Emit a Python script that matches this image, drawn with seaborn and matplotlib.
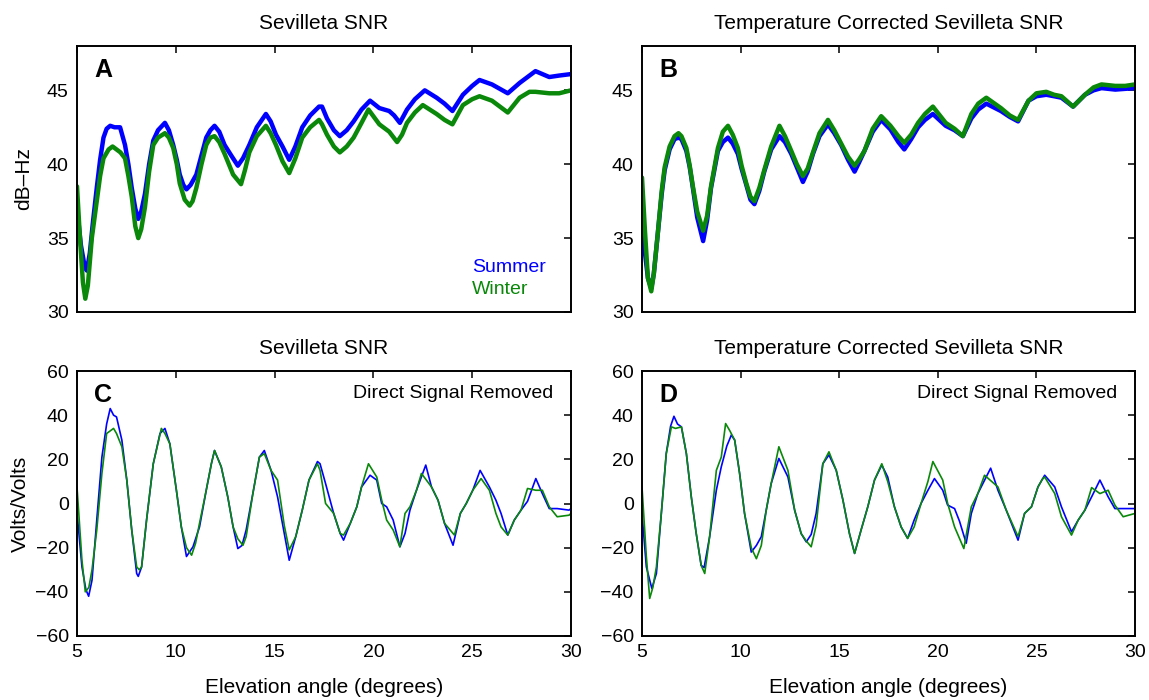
import numpy as np
import pandas as pd
import matplotlib
matplotlib.use("Agg")
import matplotlib.pyplot as plt
import seaborn as sns

# ---------------- data ----------------
# Panel A: Sevilleta SNR (dB-Hz)
a_sum_x = [5.0, 5.2, 5.4, 5.5, 5.65, 5.8, 6.0, 6.17, 6.34, 6.5, 6.68, 6.9, 7.18, 7.43, 7.6, 7.77, 7.95, 8.1,
           8.25, 8.44, 8.65, 8.86, 9.1, 9.45, 9.65, 9.87, 10.05, 10.2, 10.38, 10.54, 10.75, 11.04, 11.3,
           11.54, 11.75, 11.96, 12.2, 12.47, 12.8, 13.14, 13.4, 13.72, 14.1, 14.56, 14.8, 15.07, 15.4,
           15.74, 16.05, 16.4, 16.8, 17.25, 17.4, 17.65, 18.0, 18.3, 18.65, 19.0, 19.4, 19.83, 20.3,
           20.8, 21.05, 21.34, 21.7, 22.1, 22.6, 23.2, 23.6, 24.0, 24.53, 25.0, 25.37, 26.0, 26.4, 26.8,
           27.4, 27.8, 28.2, 28.9, 29.4, 30.0]
a_sum_y = [37.0, 34.5, 33.0, 32.8, 34.0, 36.0, 38.4, 40.3, 41.8, 42.4, 42.6, 42.5, 42.5, 41.3, 40.0, 38.4,
           37.0, 36.3, 36.8, 38.0, 40.0, 41.6, 42.3, 42.8, 42.3, 41.3, 40.3, 39.3, 38.6, 38.3, 38.6, 39.3,
           40.6, 41.8, 42.3, 42.6, 42.2, 41.3, 40.6, 39.9, 40.4, 41.3, 42.5, 43.4, 42.9, 42.0, 41.2, 40.3,
           41.2, 42.5, 43.3, 43.9, 43.9, 43.1, 42.3, 41.9, 42.3, 42.9, 43.7, 44.3, 43.8, 43.6, 43.3, 42.8,
           43.7, 44.4, 45.0, 44.5, 44.1, 43.6, 44.7, 45.3, 45.7, 45.4, 45.1, 44.8, 45.5, 45.9, 46.3, 45.9,
           46.0, 46.1]
a_win_x = [5.0, 5.15, 5.3, 5.42, 5.55, 5.75, 6.0, 6.17, 6.34, 6.6, 6.8, 7.0, 7.2, 7.43, 7.6, 7.77, 7.95,
           8.1, 8.25, 8.44, 8.65, 8.86, 9.1, 9.45, 9.65, 9.87, 10.05, 10.2, 10.45, 10.7, 10.85, 11.04,
           11.3, 11.54, 11.75, 11.96, 12.2, 12.47, 12.9, 13.3, 13.5, 13.72, 14.1, 14.56, 14.8, 15.07,
           15.4, 15.74, 16.05, 16.4, 16.8, 17.25, 17.4, 17.65, 18.0, 18.3, 18.65, 19.0, 19.4, 19.75,
           20.3, 20.8, 21.2, 21.45, 21.7, 22.1, 22.5, 23.2, 23.6, 24.0, 24.53, 25.0, 25.37, 26.0, 26.4,
           26.8, 27.4, 27.9, 28.2, 28.9, 29.4, 30.0]
a_win_y = [38.5, 35.0, 32.0, 30.9, 31.8, 35.0, 37.5, 39.2, 40.4, 41.0, 41.2, 41.0, 40.8, 40.4, 39.2, 37.8,
           35.8, 35.0, 35.6, 37.1, 39.5, 41.3, 41.8, 42.1, 41.8, 41.1, 40.0, 38.7, 37.6, 37.2, 37.5, 38.4,
           40.0, 41.3, 41.8, 41.9, 41.5, 40.7, 39.3, 38.65, 39.6, 40.8, 41.9, 42.6, 42.1, 41.3, 40.2, 39.4,
           40.4, 41.8, 42.5, 43.0, 42.7, 42.0, 41.2, 40.8, 41.2, 41.8, 42.8, 43.7, 42.7, 42.2, 41.5, 42.0,
           42.8, 43.5, 44.0, 43.4, 43.0, 42.7, 44.0, 44.4, 44.6, 44.3, 43.9, 43.5, 44.5, 44.9, 44.9, 44.8,
           44.8, 45.0]

# Panel B: Temperature corrected Sevilleta SNR (dB-Hz)
b_x = [5.0, 5.15, 5.3, 5.47, 5.6, 5.8, 6.0, 6.15, 6.4, 6.65, 6.85, 7.0, 7.25, 7.42, 7.58, 7.8, 8.1, 8.3,
       8.5, 8.85, 9.1, 9.36, 9.6, 9.86, 10.05, 10.29, 10.5, 10.7, 10.95, 11.2, 11.55, 11.97, 12.25, 12.57,
       12.85, 13.16, 13.4, 13.67, 14.0, 14.43, 14.75, 15.1, 15.45, 15.78, 16.0, 16.28, 16.7, 17.13, 17.6,
       18.0, 18.3, 18.65, 19.0, 19.35, 19.75, 20.4, 20.85, 21.27, 21.7, 22.05, 22.46, 23.2, 23.65, 24.07,
       24.6, 25.0, 25.5, 25.9, 26.27, 26.86, 27.46, 27.9, 28.3, 29.0, 29.5, 30.0]
b_sum_y = [37.5, 34.0, 32.3, 31.6, 32.6, 35.3, 38.0, 39.6, 41.0, 41.7, 41.8, 41.7, 40.9, 39.8, 38.4, 36.4,
           34.8, 36.2, 38.4, 40.9, 41.5, 41.8, 41.4, 40.7, 39.7, 38.6, 37.6, 37.3, 38.2, 39.5, 41.0, 41.9,
           41.5, 40.7, 39.8, 38.8, 39.5, 40.7, 41.9, 42.7, 42.1, 41.3, 40.3, 39.5, 40.1, 40.9, 42.2, 43.0,
           42.35, 41.5, 41.0, 41.7, 42.5, 43.0, 43.4, 42.6, 42.3, 41.9, 43.1, 43.7, 44.1, 43.6, 43.2, 42.9,
           44.3, 44.6, 44.7, 44.6, 44.5, 43.9, 44.7, 45.0, 45.15, 45.05, 45.1, 45.15]
b_win_y = [39.1, 35.5, 32.3, 31.4, 32.6, 35.3, 38.2, 39.8, 41.2, 41.9, 42.1, 41.9, 41.1, 39.9, 38.5, 36.8,
           35.5, 36.5, 38.5, 41.1, 42.2, 42.6, 42.0, 41.1, 39.9, 38.7, 37.8, 37.5, 38.4, 39.6, 41.2, 42.6,
           41.9, 40.9, 40.0, 39.2, 39.7, 40.8, 42.1, 43.0, 42.3, 41.4, 40.5, 39.9, 40.3, 40.9, 42.4, 43.25,
           42.6, 41.9, 41.45, 42.0, 42.8, 43.4, 43.9, 42.8, 42.4, 41.9, 43.4, 44.1, 44.5, 43.8, 43.3, 43.0,
           44.3, 44.8, 44.9, 44.7, 44.6, 43.9, 44.7, 45.2, 45.4, 45.3, 45.3, 45.4]

# Panel C: Sevilleta SNR, direct signal removed (volts/volts)
c_sum_x = [5.0, 5.25, 5.45, 5.59, 5.76, 6.0, 6.26, 6.5, 6.68, 6.85, 7.0, 7.27, 7.52, 7.77, 8.02, 8.1, 8.27,
           8.52, 8.86, 9.2, 9.45, 9.7, 10.03, 10.28, 10.54, 10.87, 11.2, 11.54, 11.8, 11.96, 12.3, 12.63,
           12.9, 13.14, 13.35, 13.56, 13.9, 14.23, 14.48, 14.82, 15.15, 15.49, 15.74, 16.07, 16.4, 16.74,
           17.17, 17.3, 17.58, 17.99, 18.32, 18.49, 18.83, 19.16, 19.4, 19.83, 20.17, 20.42, 20.67, 21.0,
           21.34, 21.6, 21.85, 22.18, 22.65, 22.94, 23.27, 23.6, 24.03, 24.4, 24.7, 25.03, 25.4, 25.87,
           26.2, 26.46, 26.8, 27.13, 27.47, 27.8, 28.22, 28.55, 28.9, 29.3, 29.9, 30.0]
c_sum_y = [-4, -28.7, -39, -42, -34.7, -7.5, 21, 36, 43, 40, 39.2, 28.7, 10.6, -12, -31.7, -33, -28.7,
           -7.5, 18, 31.7, 34, 27, 6, -10.6, -24, -19.6, -10.6, 6, 18, 24, 16.6, 3, -10.6, -20.4, -19, -12,
           4.5, 21, 24, 15, 3, -13.6, -25.7, -15, -3, 10.6, 19, 18, 9, -4.5, -13.6, -16.6, -9, -1.5, 7.5,
           12.8, 10.6, 0, -1.5, -7.5, -19.6, -13.6, -3, 6, 17.4, 7.5, 1.5, -9, -18.9, -4.5, 0, 6, 15, 7.5,
           1.5, -4.5, -14.3, -7.5, -3, 1, 11.3, 4.5, -2.3, -2.3, -3, -2.3]
c_win_x = [5.0, 5.25, 5.42, 5.6, 5.76, 6.0, 6.26, 6.5, 6.85, 7.0, 7.27, 7.52, 7.77, 8.02, 8.15, 8.27, 8.52,
           8.86, 9.27, 9.45, 9.7, 10.03, 10.28, 10.54, 10.8, 11.0, 11.2, 11.54, 11.8, 11.96, 12.3, 12.63,
           12.9, 13.14, 13.4, 13.56, 13.9, 14.23, 14.48, 14.82, 15.15, 15.49, 15.74, 16.07, 16.4, 16.74,
           17.17, 17.3, 17.58, 17.99, 18.32, 18.49, 18.83, 19.16, 19.4, 19.75, 20.17, 20.42, 20.67, 21.0,
           21.34, 21.6, 21.85, 22.18, 22.43, 22.94, 23.27, 23.6, 24.1, 24.4, 24.7, 25.03, 25.45, 25.87,
           26.2, 26.46, 26.8, 27.13, 27.47, 27.8, 28.22, 28.55, 28.9, 29.3, 29.9, 30.0]
c_win_y = [7.5, -25.7, -40, -38, -30, -12, 13.6, 31.7, 34, 31.7, 25.7, 10.6, -12, -28.7, -30, -28.7, -7.5,
           18, 34, 31.7, 27, 6, -10.6, -20, -23.4, -18, -9, 6, 18, 24, 16.6, 3, -10.6, -16, -18.9, -15, 4.5,
           21, 22.6, 15, 10.6, -10, -21, -15, -3, 10.6, 18, 15, 0, -4.5, -13.6, -14.3, -9, -1.5, 7.5, 18,
           12, 1.5, -7.5, -12, -19.6, -4.5, -1.5, 6, 13.6, 7.5, 1.5, -9, -14.3, -4.5, 0, 6, 11.3, 6, -4.5,
           -10.6, -14.3, -7.5, -3, 6.8, 6, 6, -1.5, -6, -5.3, -4.5]

# Panel D: temperature corrected, direct signal removed (volts/volts)
d_sum_x = [5.0, 5.22, 5.5, 5.73, 5.98, 6.23, 6.45, 6.62, 6.8, 7.0, 7.25, 7.5, 7.75, 8.0, 8.15, 8.43, 8.77,
           9.02, 9.3, 9.53, 9.7, 9.95, 10.2, 10.54, 10.8, 11.05, 11.3, 11.55, 11.94, 12.4, 12.74, 13.07,
           13.33, 13.58, 13.83, 14.17, 14.48, 14.85, 15.19, 15.52, 15.78, 16.11, 16.45, 16.79, 17.16, 17.46,
           17.8, 18.14, 18.47, 18.8, 19.15, 19.5, 19.83, 20.25, 20.5, 20.85, 21.1, 21.44, 21.7, 22.03,
           22.68, 23.05, 23.47, 24.07, 24.4, 24.75, 25.08, 25.42, 25.93, 26.27, 26.78, 27.12, 27.46, 27.8,
           28.22, 28.64, 28.98, 29.4, 30.0]
d_sum_y = [-4.5, -28.7, -38.5, -31.7, -4.5, 22.6, 35, 39.5, 36, 34.7, 22.6, 3, -13.6, -28, -29, -15, 6,
           16.6, 26, 31, 28.7, 13.6, -4.5, -22, -19, -15, -3, 9, 20.4, 12, -3, -13.6, -17.4, -14, -4.5, 18,
           22, 15, 1.5, -13.6, -22.6, -12, -1.5, 10.6, 17.4, 12, -1.5, -10.6, -15.8, -7.5, 0, 6, 11.3, 6,
           -0.75, -2.3, -8, -18, -4.5, 4.5, 16, 6, -3, -16.6, -4.5, -1.5, 7.5, 12.8, 7.5, -1.5, -12.8, -7.5,
           -3, 3, 10.6, 3, -2.3, -2.3, -2.3]
d_win_x = [5.0, 5.22, 5.39, 5.55, 5.73, 5.98, 6.23, 6.49, 6.7, 7.0, 7.25, 7.5, 7.75, 8.0, 8.18, 8.43, 8.77,
           9.02, 9.24, 9.45, 9.7, 9.95, 10.2, 10.54, 10.8, 11.05, 11.3, 11.55, 11.94, 12.4, 12.74, 13.07,
           13.33, 13.58, 13.83, 14.17, 14.48, 14.85, 15.19, 15.52, 15.78, 16.11, 16.45, 16.79, 17.16, 17.46,
           17.8, 18.14, 18.47, 18.8, 19.15, 19.5, 19.75, 20.25, 20.5, 20.85, 21.32, 21.7, 22.03, 22.37,
           23.05, 23.47, 24.07, 24.4, 24.75, 25.08, 25.3, 25.42, 25.93, 26.27, 26.78, 27.12, 27.46, 27.8,
           28.22, 28.64, 28.98, 29.4, 30.0]
d_win_y = [7.5, -24, -43, -38, -28.7, -4.5, 22.6, 34.7, 34, 34.7, 22.6, 3, -13.6, -28, -31.7, -15, 15, 21,
           36.2, 33, 28.7, 13.6, -4.5, -20, -25, -19, -3, 9, 25.7, 15, -3, -13.6, -17, -19.6, -10, 18, 23.4,
           15, 1.5, -13.6, -22.6, -12, -1.5, 10.6, 18, 10, -1.5, -10.6, -15.8, -10.6, 0, 10, 19, 10.6, 0,
           -10.6, -20.4, -1.5, 4.5, 12.8, 7.5, -3, -15, -4.5, -1.5, 7.5, 11, 12, 4.5, -6, -14.3, -7.5, -3,
           7.2, 4.5, 6, -0.75, -6, -4.5]

titles = ["Sevilleta SNR", "Temperature Corrected Sevilleta SNR",
          "Sevilleta SNR", "Temperature Corrected Sevilleta SNR"]
letters = ["A", "B", "C", "D"]
x_ticks = [5, 10, 15, 20, 25, 30]
snr_ticks = [30, 35, 40, 45]
volt_ticks = [-60, -40, -20, 0, 20, 40, 60]
season_labels = ["Summer", "Winter"]

# ---------------- style ----------------
sns.set_theme(style="white")
plt.rcParams["font.family"] = ["Liberation Sans", "DejaVu Sans"]
plt.rcParams.update({
    "axes.edgecolor": "black",
    "axes.labelcolor": "black",
    "axes.titlecolor": "black",
    "axes.linewidth": 1.4,
    "xtick.direction": "in",
    "ytick.direction": "in",
    "xtick.major.size": 5,
    "ytick.major.size": 5,
    "xtick.major.width": 1.1,
    "ytick.major.width": 1.1,
    "xtick.color": "black",
    "ytick.color": "black",
    "xtick.labelcolor": "black",
    "ytick.labelcolor": "black",
    "xtick.labelsize": 14,
    "ytick.labelsize": 14,
    "text.color": "black",
})

SUMMER = "#0000ff"
WINTER = "#0a880a"

fig = plt.figure(figsize=(11.49, 7.0), dpi=100)
W, H = 1149.0, 700.0
boxes = {
    "A": (77, 46, 571, 312),
    "B": (642, 46, 1135, 312),
    "C": (77, 371, 571, 636),
    "D": (642, 371, 1135, 636),
}
axes = {}
for k, (l, t, r, b) in boxes.items():
    axes[k] = fig.add_axes([l / W, 1 - b / H, (r - l) / W, (b - t) / H])

panels = {
    "A": [(a_sum_x, a_sum_y, SUMMER), (a_win_x, a_win_y, WINTER)],
    "B": [(b_x, b_sum_y, SUMMER), (b_x, b_win_y, WINTER)],
    "C": [(c_sum_x, c_sum_y, SUMMER), (c_win_x, c_win_y, WINTER)],
    "D": [(d_sum_x, d_sum_y, SUMMER), (d_win_x, d_win_y, WINTER)],
}

for i, k in enumerate(letters):
    ax = axes[k]
    top_row = k in ("A", "B")
    lw = 3.2 if top_row else 1.2
    for xs, ys, col in panels[k]:
        df = pd.DataFrame({"elev": xs, "val": ys})
        sns.lineplot(data=df, x="elev", y="val", ax=ax, color=col, lw=lw,
                     estimator=None, sort=False, legend=False)
    ax.set_xlim(5, 30)
    ax.set_xticks(x_ticks)
    ax.set_ylabel("")
    if top_row:
        ax.set_ylim(30, 48)
        ax.set_yticks(snr_ticks)
        ax.set_xticklabels([])
        ax.set_xlabel("")
    else:
        ax.set_ylim(-60, 60)
        ax.set_yticks(volt_ticks)
        ax.set_xlabel("Elevation angle (degrees)", fontsize=15, labelpad=12)
    ax.tick_params(top=True, right=True, pad=6)
    for s in ax.spines.values():
        s.set_visible(True)
        s.set_color("black")
    ax.set_title(titles[i], fontsize=15, pad=12)
    ax.text(0.035, 0.91, k, transform=ax.transAxes, fontsize=18, fontweight="bold",
            ha="left", va="center")
    if not top_row:
        ax.text(0.964, 0.914, "Direct Signal Removed", transform=ax.transAxes,
                fontsize=14, ha="right", va="center")

axes["A"].set_ylabel("dB\u2013Hz", fontsize=15, labelpad=10)
axes["C"].set_ylabel("Volts/Volts", fontsize=15, labelpad=4)
axes["A"].text(0.80, 0.169, season_labels[0], transform=axes["A"].transAxes,
               color=SUMMER, fontsize=14, ha="left", va="center")
axes["A"].text(0.80, 0.083, season_labels[1], transform=axes["A"].transAxes,
               color=WINTER, fontsize=14, ha="left", va="center")

fig.savefig("out.png", dpi=100)
